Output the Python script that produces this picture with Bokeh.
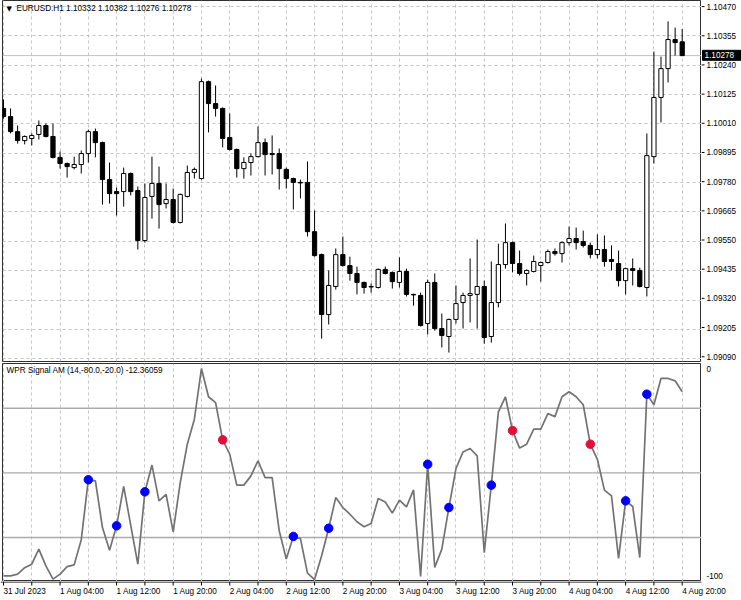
from bokeh.plotting import figure
from bokeh.layouts import column, row
from bokeh.models import FixedTicker, Range1d, Span, Label, ColumnDataSource
from bokeh.core.properties import value
from bokeh.embed import file_html
from bokeh.resources import INLINE

# ---------------- data (EURUSD H1, 31 Jul 2023 20:00 .. 4 Aug 2023 20:00) ----------------
opens = [1.10071, 1.10039, 1.09980, 1.09945, 1.09953, 1.09969, 1.10004, 1.09961, 1.09879, 1.09855,
         1.09839, 1.09851, 1.09894, 1.09980, 1.09937, 1.09792, 1.09745, 1.09745, 1.09816, 1.09749,
         1.09553, 1.09726, 1.09777, 1.09698, 1.09714, 1.09624, 1.09726, 1.09820, 1.09796, 1.10176,
         1.10090, 1.10071, 1.09957, 1.09910, 1.09835, 1.09859, 1.09882, 1.09937, 1.09894, 1.09894,
         1.09832, 1.09796, 1.09781, 1.09781, 1.09588, 1.09498, 1.09263, 1.09373, 1.09498, 1.09455,
         1.09424, 1.09389, 1.09373, 1.09369, 1.09440, 1.09428, 1.09389, 1.09432, 1.09342, 1.09338,
         1.09228, 1.09389, 1.09208, 1.09177, 1.09244, 1.09310, 1.09338, 1.09342, 1.09373, 1.09177,
         1.09310, 1.09459, 1.09545, 1.09463, 1.09424, 1.09432, 1.09455, 1.09467, 1.09510, 1.09502,
         1.09545, 1.09561, 1.09549, 1.09534, 1.09498, 1.09518, 1.09479, 1.09463, 1.09396, 1.09443,
         1.09436, 1.09369, 1.09882, 1.10114, 1.10227, 1.10341, 1.10332]
highs = [1.10106, 1.10071, 1.10004, 1.09965, 1.09973, 1.10024, 1.10012, 1.10012, 1.09902, 1.09859,
         1.09882, 1.09906, 1.09988, 1.09992, 1.09941, 1.09859, 1.09761, 1.09839, 1.09820, 1.09765,
         1.09777, 1.09882, 1.09843, 1.09777, 1.09757, 1.09737, 1.09847, 1.09839, 1.10188, 1.10180,
         1.10161, 1.10075, 1.10051, 1.09914, 1.09879, 1.09894, 1.10000, 1.09953, 1.09965, 1.09914,
         1.09839, 1.09800, 1.09792, 1.09863, 1.09671, 1.09502, 1.09436, 1.09522, 1.09569, 1.09490,
         1.09451, 1.09392, 1.09385, 1.09443, 1.09451, 1.09432, 1.09487, 1.09443, 1.09345, 1.09349,
         1.09400, 1.09424, 1.09267, 1.09247, 1.09377, 1.09349, 1.09483, 1.09557, 1.09396, 1.09471,
         1.09541, 1.09620, 1.09549, 1.09514, 1.09440, 1.09494, 1.09471, 1.09518, 1.09522, 1.09549,
         1.09608, 1.09604, 1.09592, 1.09545, 1.09577, 1.09573, 1.09534, 1.09514, 1.09447, 1.09483,
         1.09447, 1.09973, 1.10294, 1.10274, 1.10412, 1.10388, 1.10382]
lows = [1.10031, 1.09973, 1.09933, 1.09930, 1.09926, 1.09949, 1.09957, 1.09875, 1.09835, 1.09800,
        1.09832, 1.09816, 1.09859, 1.09879, 1.09694, 1.09698, 1.09651, 1.09686, 1.09730, 1.09518,
        1.09545, 1.09639, 1.09600, 1.09679, 1.09620, 1.09620, 1.09722, 1.09796, 1.09792, 1.09977,
        1.10039, 1.09918, 1.09906, 1.09800, 1.09796, 1.09808, 1.09879, 1.09808, 1.09812, 1.09753,
        1.09757, 1.09675, 1.09718, 1.09569, 1.09490, 1.09169, 1.09224, 1.09361, 1.09451, 1.09396,
        1.09342, 1.09345, 1.09349, 1.09365, 1.09420, 1.09365, 1.09369, 1.09334, 1.09298, 1.09216,
        1.09185, 1.09200, 1.09134, 1.09114, 1.09228, 1.09208, 1.09232, 1.09208, 1.09149, 1.09153,
        1.09291, 1.09443, 1.09428, 1.09416, 1.09377, 1.09428, 1.09392, 1.09463, 1.09494, 1.09467,
        1.09534, 1.09518, 1.09526, 1.09483, 1.09483, 1.09451, 1.09436, 1.09373, 1.09342, 1.09377,
        1.09369, 1.09334, 1.09855, 1.10016, 1.10173, 1.10278, 1.10276]
closes = [1.10039, 1.09980, 1.09945, 1.09961, 1.09965, 1.10004, 1.09961, 1.09879, 1.09855, 1.09843,
          1.09851, 1.09894, 1.09980, 1.09937, 1.09792, 1.09737, 1.09737, 1.09816, 1.09745, 1.09553,
          1.09722, 1.09777, 1.09694, 1.09714, 1.09624, 1.09734, 1.09820, 1.09832, 1.10176, 1.10090,
          1.10071, 1.09953, 1.09910, 1.09835, 1.09859, 1.09882, 1.09937, 1.09890, 1.09890, 1.09835,
          1.09796, 1.09781, 1.09779, 1.09588, 1.09494, 1.09263, 1.09377, 1.09498, 1.09455, 1.09424,
          1.09389, 1.09369, 1.09371, 1.09440, 1.09424, 1.09392, 1.09432, 1.09342, 1.09340, 1.09220,
          1.09389, 1.09208, 1.09181, 1.09244, 1.09306, 1.09338, 1.09345, 1.09373, 1.09173, 1.09310,
          1.09459, 1.09545, 1.09463, 1.09424, 1.09436, 1.09471, 1.09467, 1.09510, 1.09502, 1.09545,
          1.09561, 1.09545, 1.09534, 1.09498, 1.09518, 1.09471, 1.09471, 1.09396, 1.09443, 1.09436,
          1.09373, 1.09886, 1.10114, 1.10227, 1.10341, 1.10329, 1.10278]

wpr = [-97.8, -97.8, -97.0, -94.0, -92.4, -85.4, -93.2, -99.3, -97.0, -93.5,
       -92.7, -81.0, -53.2, -53.7, -75.4, -85.9, -74.6, -56.3, -74.4, -92.4,
       -58.8, -46.4, -63.0, -60.0, -77.4, -54.5, -36.7, -25.1, -1.6, -14.7,
       -17.4, -34.7, -41.3, -55.7, -55.7, -51.4, -44.4, -52.2, -52.2, -76.9,
       -90.0, -79.5, -80.5, -96.5, -99.5, -88.5, -75.7, -61.4, -66.1, -69.2,
       -72.7, -75.0, -73.5, -61.9, -63.5, -68.7, -62.7, -65.8, -57.9, -98.1,
       -46.0, -93.9, -85.4, -66.1, -48.0, -40.3, -38.7, -42.1, -87.0, -55.7,
       -21.7, -14.7, -30.4, -38.5, -36.7, -29.7, -29.7, -22.5, -23.9, -14.7,
       -12.4, -14.7, -18.4, -36.7, -43.7, -58.0, -60.7, -89.7, -63.0, -65.6,
       -89.3, -13.5, -18.4, -6.2, -6.2, -7.3, -12.36]

buy_bars = [12, 16, 20, 41, 46, 60, 63, 69, 88, 91]
sell_bars = [31, 72, 83]
levels = [-20.0, -50.0, -80.0]

price_ticks = [1.10470, 1.10355, 1.10240, 1.10125, 1.10010, 1.09895, 1.09780,
               1.09665, 1.09550, 1.09435, 1.09320, 1.09205, 1.09090]
time_ticks = [0, 4, 8, 12, 16, 20, 24, 28, 32, 36, 40, 44, 48, 52, 56, 60, 64, 68, 72, 76, 80, 84, 88, 92, 96]
time_labels = ["31 Jul 2023", "", "1 Aug 04:00", "", "1 Aug 12:00", "", "1 Aug 20:00", "",
               "2 Aug 04:00", "", "2 Aug 12:00", "", "2 Aug 20:00", "", "3 Aug 04:00", "",
               "3 Aug 12:00", "", "3 Aug 20:00", "", "4 Aug 04:00", "", "4 Aug 12:00", "", "4 Aug 20:00"]

symbol_title = "EURUSD.H1  1.10332 1.10382 1.10276 1.10278"
ind_title = "WPR Signal AM (14,-80.0,-20.0) -12.36059"
last_price = 1.10278
ind_scale_top, ind_scale_bottom = 0.0, -100.0

# ---------------- styling / geometry ----------------
FONT = "Liberation Sans"
FS = "8.2px"
GRID = "#C4C4C4"
FRAME_W, LEFT_B, RIGHT_W = 699, 2, 40
P_H, P_GAP, Q_H, STRIP_H = 363, 2, 218, 19

n = len(opens)
idx = list(range(n))
x_start, x_end = -0.14, 98.73
xr = Range1d(x_start, x_end)
p_lo, p_hi = 1.09079, 1.10494
w_lo, w_hi = -100.42, 0.74


def base_fig(**kw):
    f = figure(output_backend="svg", toolbar_location=None, tools="",
               x_axis_location=None, y_axis_location=None, **kw)
    f.background_fill_color = "white"
    f.border_fill_color = "white"
    return f


# ---------------- price panel ----------------
p = base_fig(width=LEFT_B + FRAME_W, height=P_H, x_range=xr, y_range=Range1d(p_lo, p_hi),
             min_border_left=LEFT_B, min_border_right=0, min_border_top=0, min_border_bottom=P_GAP)
p.outline_line_color = "#303030"
p.xgrid.ticker = FixedTicker(ticks=time_ticks)
p.ygrid.ticker = FixedTicker(ticks=price_ticks)
for g in (p.xgrid, p.ygrid):
    g.grid_line_color = GRID
    g.grid_line_dash = "3 3"
    g.grid_line_width = 1

p.add_layout(Span(location=last_price, dimension="width", line_color="#C0C0C0",
                  line_width=1, level="underlay"))

src = ColumnDataSource(dict(
    x=idx, high=highs, low=lows,
    top=[max(o, c) for o, c in zip(opens, closes)],
    bottom=[min(o, c) for o, c in zip(opens, closes)],
    fill=["white" if c >= o else "black" for o, c in zip(opens, closes)],
))
p.segment(x0="x", y0="low", x1="x", y1="high", source=src, line_color="black", line_width=1)
p.vbar(x="x", top="top", bottom="bottom", width=0.6, source=src,
       fill_color="fill", line_color="black", line_width=1)

p.add_layout(Label(x=x_start, y=p_hi, x_offset=4, y_offset=-8, text="\u25BC",
                   text_font="DejaVu Sans", text_font_size="7px", text_baseline="middle",
                   text_color="black"))
p.add_layout(Label(x=x_start, y=p_hi, x_offset=14, y_offset=-8, text=symbol_title,
                   text_font=FONT, text_font_size=FS, text_baseline="middle",
                   text_color="black"))

# price scale (right strip), same price-to-pixel mapping as the price panel
ppy = (p_hi - p_lo) / (P_H - P_GAP)
pa = base_fig(width=RIGHT_W, height=P_H, x_range=Range1d(0, RIGHT_W),
              y_range=Range1d(p_lo - P_GAP * ppy, p_hi),
              min_border_left=0, min_border_right=0, min_border_top=0, min_border_bottom=0)
pa.outline_line_color = None
pa.grid.visible = False
pa.segment(x0=[0] * len(price_ticks), y0=price_ticks, x1=[3] * len(price_ticks), y1=price_ticks,
           line_color="black", line_width=1)
pa.text(x=[5] * len(price_ticks), y=price_ticks, text=["%.5f" % t for t in price_ticks],
        text_font=value(FONT), text_font_size=value(FS), text_baseline="middle",
        text_align="left", text_color="black")
pa.rect(x=[RIGHT_W / 2 + 0.5], y=[last_price], width=RIGHT_W - 1, height=10,
        height_units="screen", fill_color="black", line_color="black")
pa.text(x=[3], y=[last_price], text=["%.5f" % last_price], text_font=value(FONT),
        text_font_size=value(FS), text_baseline="middle", text_align="left",
        text_color="white")

# ---------------- indicator panel ----------------
q = base_fig(width=LEFT_B + FRAME_W, height=Q_H, x_range=xr, y_range=Range1d(w_lo, w_hi),
             min_border_left=LEFT_B, min_border_right=0, min_border_top=0, min_border_bottom=0)
q.outline_line_color = "#303030"
q.xgrid.ticker = FixedTicker(ticks=time_ticks)
q.xgrid.grid_line_color = GRID
q.xgrid.grid_line_dash = "3 3"
q.ygrid.visible = False

for lv in levels:
    q.add_layout(Span(location=lv, dimension="width", line_color="#ABABAB",
                      line_width=1.4, level="underlay"))

q.line(idx, wpr, line_color="#737373", line_width=1.7)
q.scatter(buy_bars, [wpr[i] for i in buy_bars], size=8.5, fill_color="#0000FF",
          line_color="#0000FF")
q.scatter(sell_bars, [wpr[i] for i in sell_bars], size=8.5, fill_color="#E0103A",
          line_color="#E0103A")

q.add_layout(Label(x=x_start, y=w_hi, x_offset=4, y_offset=-7, text=ind_title,
                   text_font=FONT, text_font_size=FS, text_baseline="middle",
                   text_color="black"))

qa = base_fig(width=RIGHT_W, height=Q_H, x_range=Range1d(0, RIGHT_W), y_range=q.y_range,
              min_border_left=0, min_border_right=0, min_border_top=0, min_border_bottom=0)
qa.outline_line_color = None
qa.grid.visible = False
qa.text(x=[5], y=[ind_scale_top], text=["%d" % ind_scale_top], text_font=value(FONT),
        text_font_size=value(FS), text_baseline="top", text_align="left", text_color="black",
        y_offset=1)
qa.text(x=[5], y=[ind_scale_bottom], text=["%d" % ind_scale_bottom], text_font=value(FONT),
        text_font_size=value(FS), text_baseline="bottom", text_align="left", text_color="black",
        y_offset=-2)

# ---------------- time scale strip (full width, same hour-to-pixel mapping) ----------------
ppu = FRAME_W / (x_end - x_start)
strip = base_fig(width=LEFT_B + FRAME_W + RIGHT_W, height=STRIP_H,
                 x_range=Range1d(x_start - LEFT_B / ppu, x_end + RIGHT_W / ppu),
                 y_range=Range1d(0, STRIP_H),
                 min_border_left=0, min_border_right=0, min_border_top=0, min_border_bottom=0)
strip.outline_line_color = None
strip.grid.visible = False
strip.segment(x0=[x_start - LEFT_B / ppu], y0=[STRIP_H - 0.5], x1=[x_end], y1=[STRIP_H - 0.5],
              line_color="black", line_width=1)
strip.segment(x0=time_ticks, y0=[STRIP_H] * len(time_ticks), x1=time_ticks,
              y1=[STRIP_H - 4] * len(time_ticks), line_color="black", line_width=1)
lab_x = [t for t, lab in zip(time_ticks, time_labels) if lab]
lab_t = [lab for lab in time_labels if lab]
strip.text(x=lab_x, y=[STRIP_H - 5] * len(lab_x), text=lab_t, text_font=value(FONT),
           text_font_size=value(FS), text_baseline="top", text_align="left", text_color="black")

layout = column(row(p, pa, spacing=0), row(q, qa, spacing=0), strip, spacing=0)
open("out.html", "w").write(file_html(layout, INLINE))
